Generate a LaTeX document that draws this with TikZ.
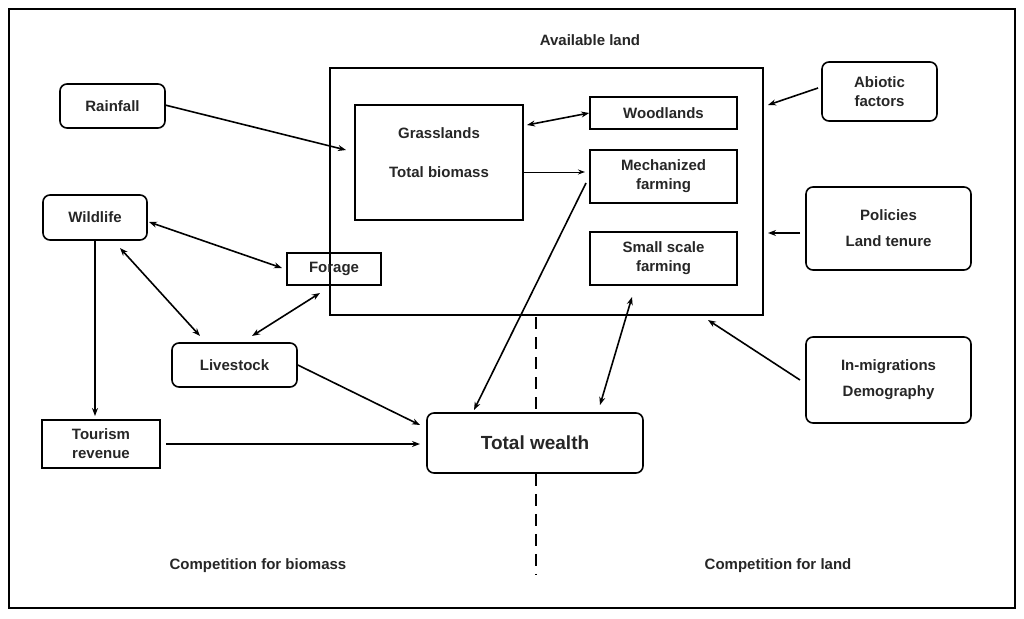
\documentclass[tikz,border=0pt]{standalone}
\usepackage{fontspec}
\setmainfont{Liberation Sans}
\usetikzlibrary{arrows.meta}
\begin{document}
\begin{tikzpicture}[x=1pt,y=-1pt,
  txt/.style={font=\fontsize{15}{19}\selectfont\bfseries, text=black!85, align=center},
  sq/.style={draw, line width=1.6pt},
  rd/.style={draw, line width=1.6pt, rounded corners=7pt},
  ar/.style={line width=1.6pt, -{Stealth[length=8pt,width=6pt]}},
  dar/.style={line width=1.6pt, {Stealth[length=8pt,width=6pt]}-{Stealth[length=8pt,width=6pt]}}]
\useasboundingbox (0,0) rectangle (1024,618);
\draw[line width=1.4pt] (9,9) rectangle (1015,608);
\draw[sq] (330,68) rectangle (763,315);
\node[txt] (al) at (590,40) {Available land};
\draw[sq] (355,105) rectangle (523,220);
\node[txt] at (439,133) {Grasslands};
\node[txt] at (439,172) {Total biomass};
\node[sq,txt,minimum width=147pt,minimum height=32pt,inner sep=0pt] (wood) at (663.5,113) {Woodlands};
\node[sq,txt,minimum width=147pt,minimum height=53pt,inner sep=0pt] (mech) at (663.5,176.5) {Mechanized\\farming};
\node[sq,txt,minimum width=147pt,minimum height=53pt,inner sep=0pt] (small) at (663.5,258.5) {Small scale\\farming};
\node[rd,txt,minimum width=105pt,minimum height=44pt,inner sep=0pt] (rain) at (112.5,106) {Rainfall};
\node[rd,txt,minimum width=104pt,minimum height=45pt,inner sep=0pt] (wild) at (95,217.5) {Wildlife};
\node[sq,txt,minimum width=94pt,minimum height=32pt,inner sep=0pt] (forage) at (334,269) {Forage};
\node[rd,txt,minimum width=125pt,minimum height=44pt,inner sep=0pt] (live) at (234.5,365) {Livestock};
\node[draw,line width=2.4pt,txt,minimum width=118pt,minimum height=48pt,inner sep=0pt] (tour) at (101,444) {Tourism\\revenue};
\node[rd,txt,font=\fontsize{19}{23}\selectfont\bfseries,minimum width=216pt,minimum height=60pt,inner sep=0pt] (tw) at (535,443) {Total wealth};
\node[rd,txt,minimum width=115pt,minimum height=59pt,inner sep=0pt] (abi) at (879.5,91.5) {Abiotic\\factors};
\node[rd,txt,font=\fontsize{15}{26}\selectfont\bfseries,minimum width=165pt,minimum height=83pt,inner sep=0pt] (pol) at (888.5,228.5) {Policies\\Land tenure};
\node[rd,txt,font=\fontsize{15}{26}\selectfont\bfseries,minimum width=165pt,minimum height=86pt,inner sep=0pt] (mig) at (888.5,380) {In-migrations\\Demography};
\node[txt] (cb) at (258,566) {Competition for biomass};
\node[txt] (cl) at (778,566) {Competition for land};
\coordinate (d1) at (536,317); \coordinate (d2) at (536,575);
\draw[line width=1.6pt,dash pattern=on 12pt off 8pt] (d1) -- (tw.north-|d1);
\draw[line width=1.6pt,dash pattern=on 12pt off 8pt] (tw.south-|d1) -- (d2);
\coordinate (r1) at (165,105); \coordinate (r2) at (346,150);
\draw[ar] (r1) -- (r2);
\draw[dar] (527,125) -- (wood.west);
\draw[line width=0.9pt,-{Stealth[length=7pt,width=5pt]}] (523,172) -- (585,172);
\draw[ar] (818,88) -- (768,105);
\draw[ar] (800,233) -- (768,233);
\draw[ar] (800,380) -- (708,320);
\draw[dar] (149,222) -- (282,268);
\draw[dar] (120,248) -- (200,336);
\draw[dar] (252,336) -- (320,293);
\draw[ar] (95,241) -- (95,416);
\draw[ar] (live.east) -- (420,425);
\draw[ar] (166,444) -- (420,444);
\draw[ar] (586,183) -- (474,410);
\draw[dar] (632,297) -- (600,405);
\end{tikzpicture}
\end{document}
